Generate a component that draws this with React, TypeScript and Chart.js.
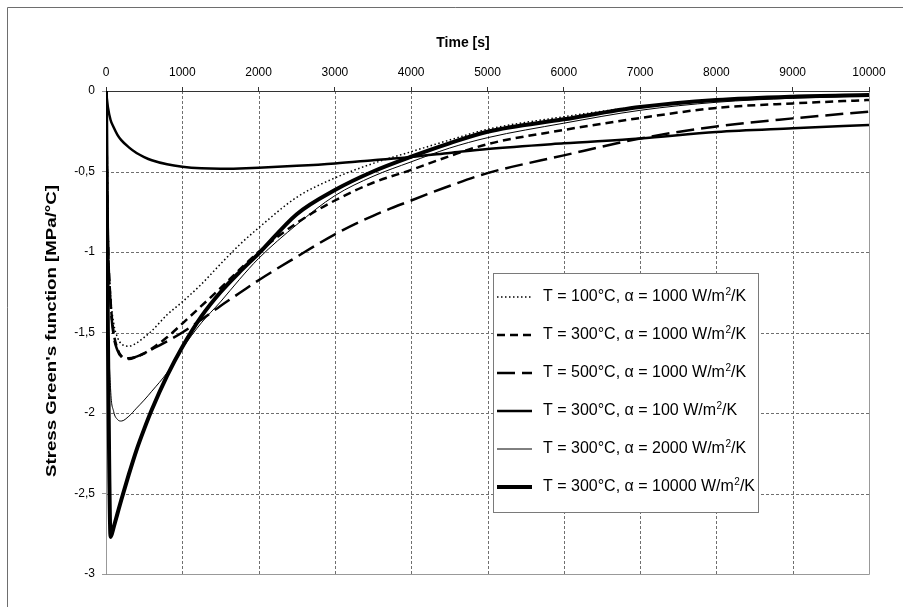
import { useEffect, useRef } from 'react';
import { Chart, registerables } from 'chart.js';

Chart.register(...registerables);

// ---- data ----
const timeS = [0, 25, 60, 100, 150, 200, 300, 400, 500, 600, 800, 1000, 1250, 1500, 1750, 2000, 2500, 3000, 3500, 4000, 4500, 5000, 6000, 7000, 8000, 9000, 10000];

const t100a1000 = [0, -0.9, -1.27, -1.44, -1.53, -1.57, -1.585, -1.565, -1.53, -1.49, -1.39, -1.31, -1.2, -1.075, -0.955, -0.85, -0.66, -0.54, -0.45, -0.377, -0.305, -0.238, -0.16, -0.097, -0.058, -0.038, -0.025];
const t300a1000 = [0, -0.9, -1.3, -1.5, -1.6, -1.645, -1.66, -1.65, -1.63, -1.6, -1.53, -1.445, -1.335, -1.225, -1.11, -1.0, -0.82, -0.68, -0.57, -0.49, -0.405, -0.33, -0.242, -0.168, -0.105, -0.077, -0.056];
const t500a1000 = [0, -0.9, -1.32, -1.52, -1.61, -1.65, -1.665, -1.65, -1.63, -1.605, -1.555, -1.5, -1.42, -1.335, -1.255, -1.175, -1.03, -0.89, -0.775, -0.68, -0.59, -0.51, -0.4, -0.295, -0.22, -0.17, -0.128];
const t300a100 = [0, -0.1, -0.18, -0.225, -0.272, -0.305, -0.35, -0.385, -0.41, -0.43, -0.455, -0.47, -0.48, -0.483, -0.481, -0.477, -0.465, -0.45, -0.43, -0.41, -0.385, -0.36, -0.325, -0.295, -0.255, -0.232, -0.211];
const t300a2000 = [0, -1.3, -1.85, -1.99, -2.04, -2.05, -2.02, -1.97, -1.92, -1.865, -1.75, -1.6, -1.44, -1.31, -1.17, -1.04, -0.83, -0.65, -0.53, -0.44, -0.355, -0.29, -0.2, -0.12, -0.07, -0.045, -0.031];
const t300a10000 = [0, -1.5, -2.77, -2.71, -2.625, -2.54, -2.38, -2.23, -2.1, -1.98, -1.77, -1.59, -1.4, -1.25, -1.125, -1.01, -0.765, -0.615, -0.5, -0.408, -0.325, -0.253, -0.176, -0.1, -0.056, -0.035, -0.025];

const seriesLabels = [
  'T = 100°C, α = 1000 W/m²/K',
  'T = 300°C, α = 1000 W/m²/K',
  'T = 500°C, α = 1000 W/m²/K',
  'T = 300°C, α = 100 W/m²/K',
  'T = 300°C, α = 2000 W/m²/K',
  'T = 300°C, α = 10000 W/m²/K',
];
const seriesValues = [t100a1000, t300a1000, t500a1000, t300a100, t300a2000, t300a10000];

const xTickValues = [0, 1000, 2000, 3000, 4000, 5000, 6000, 7000, 8000, 9000, 10000];
const yTickValues = [0, -0.5, -1, -1.5, -2, -2.5, -3];

const xTitle = 'Time [s]';
const yTitle = "Stress Green's function [MPa/°C]";

// ---- styles ----
const seriesStyles = [
  { width: 1.5, dash: [1.5, 2.5] },
  { width: 2.5, dash: [8, 5] },
  { width: 2.5, dash: [18, 7] },
  { width: 2.5, dash: [] as number[] },
  { width: 1, dash: [] as number[] },
  { width: 4, dash: [] as number[] },
];

const FONT = '"Liberation Sans", Arial, sans-serif';
const GRID_COLOR = '#6f6f6f';
const GRID_DASH = [3, 2];

const decorPlugin = {
  id: 'decor',
  beforeDraw(chart: any) {
    const ctx = chart.ctx;
    ctx.save();
    ctx.fillStyle = '#ffffff';
    ctx.fillRect(0, 0, chart.width, chart.height);
    ctx.strokeStyle = '#6e6e6e';
    ctx.lineWidth = 1;
    ctx.beginPath();
    ctx.moveTo(7.5, chart.height);
    ctx.lineTo(7.5, 7.5);
    ctx.lineTo(chart.width, 7.5);
    ctx.stroke();

    ctx.fillStyle = '#000';
    ctx.font = 'bold 14px ' + FONT;
    ctx.textAlign = 'center';
    ctx.textBaseline = 'middle';
    ctx.fillText(xTitle, 463, 43);
    ctx.translate(52, 331);
    ctx.rotate(-Math.PI / 2);
    const w = ctx.measureText(yTitle).width;
    ctx.scale(292 / w, 1);
    ctx.fillText(yTitle, 0, 0);
    ctx.restore();
  },
  beforeDatasetsDraw(chart: any) {
    const { left, right, top, bottom } = chart.chartArea;
    const ctx = chart.ctx;
    const xs = chart.scales.x;
    const ys = chart.scales.y;
    ctx.save();
    ctx.lineWidth = 1;
    ctx.strokeStyle = GRID_COLOR;
    ctx.setLineDash(GRID_DASH);
    xTickValues.forEach((v) => {
      const px = Math.round(xs.getPixelForValue(v)) + 0.5;
      ctx.beginPath();
      ctx.moveTo(px, top);
      ctx.lineTo(px, bottom);
      ctx.stroke();
    });
    yTickValues.forEach((v) => {
      const py = Math.round(ys.getPixelForValue(v)) + 0.5;
      ctx.beginPath();
      ctx.moveTo(left, py);
      ctx.lineTo(right, py);
      ctx.stroke();
    });
    ctx.setLineDash([]);
    ctx.strokeStyle = '#999999';
    ctx.beginPath();
    ctx.moveTo(Math.round(left) + 0.5, Math.round(top));
    ctx.lineTo(Math.round(left) + 0.5, Math.round(bottom) + 0.5);
    ctx.lineTo(Math.round(right) + 0.5, Math.round(bottom) + 0.5);
    ctx.lineTo(Math.round(right) + 0.5, Math.round(top));
    ctx.stroke();
    ctx.strokeStyle = '#333333';
    ctx.beginPath();
    ctx.moveTo(Math.round(left), Math.round(top) + 0.5);
    ctx.lineTo(Math.round(right) + 1, Math.round(top) + 0.5);
    ctx.stroke();
    ctx.restore();
  },
  afterDatasetsDraw(chart: any) {
    const ctx = chart.ctx;
    const bx = 493, by = 273, bw = 265, bh = 239;
    ctx.save();
    ctx.fillStyle = '#ffffff';
    ctx.fillRect(bx, by, bw, bh);
    ctx.strokeStyle = '#7a7a7a';
    ctx.lineWidth = 1;
    ctx.strokeRect(bx + 0.5, by + 0.5, bw, bh);
    chart.data.datasets.forEach((ds: any, i: number) => {
      const y = 297 + i * 38;
      ctx.save();
      ctx.strokeStyle = '#000';
      ctx.lineWidth = ds.borderWidth;
      ctx.setLineDash(ds.borderDash || []);
      ctx.beginPath();
      ctx.moveTo(497, y);
      ctx.lineTo(532, y);
      ctx.stroke();
      ctx.restore();
      const parts = String(ds.label).split('²');
      ctx.fillStyle = '#000';
      ctx.textAlign = 'left';
      ctx.textBaseline = 'middle';
      ctx.font = '16px ' + FONT;
      let x = 543;
      ctx.fillText(parts[0], x, y);
      x += ctx.measureText(parts[0]).width;
      if (parts.length > 1) {
        ctx.font = '10px ' + FONT;
        ctx.fillText('2', x + 0.5, y - 5);
        x += ctx.measureText('2').width + 0.5;
        ctx.font = '16px ' + FONT;
        ctx.fillText(parts[1], x, y);
      }
    });
    ctx.restore();
  },
};

export default function App() {
  const ref = useRef<HTMLCanvasElement | null>(null);
  useEffect(() => {
    if (!ref.current) return;
    const datasets = seriesValues.map((vals, i) => ({
      label: seriesLabels[i],
      data: timeS.map((t, k) => ({ x: t, y: vals[k] })),
      borderColor: '#000000',
      backgroundColor: '#000000',
      borderWidth: seriesStyles[i].width,
      borderDash: seriesStyles[i].dash,
      pointRadius: 0,
      fill: false,
      cubicInterpolationMode: 'monotone' as const,
      borderCapStyle: 'butt' as const,
      borderJoinStyle: 'round' as const,
    }));
    const chart = new Chart(ref.current, {
      type: 'line',
      data: { datasets },
      plugins: [decorPlugin],
      options: {
        animation: false,
        responsive: false,
        devicePixelRatio: 1,
        layout: { padding: { left: 0, top: 0, right: 34, bottom: 33 } },
        plugins: {
          legend: { display: false },
          tooltip: { enabled: false },
          title: { display: false },
        },
        scales: {
          x: {
            type: 'linear',
            position: 'top',
            min: 0,
            max: 10000,
            afterBuildTicks: (s: any) => {
              s.ticks = xTickValues.map((v) => ({ value: v }));
            },
            afterFit: (s: any) => {
              s.height = 91;
            },
            ticks: {
              color: '#000',
              font: { family: FONT, size: 12 },
              padding: 7,
              maxRotation: 0,
              autoSkip: false,
              callback: (v: any) => String(v),
            },
            grid: {
              drawOnChartArea: false,
              lineWidth: 1,
              tickLength: 4,
              tickColor: '#333333',
            },
            border: { display: false },
          },
          y: {
            type: 'linear',
            min: -3,
            max: 0,
            afterBuildTicks: (s: any) => {
              s.ticks = yTickValues.map((v) => ({ value: v }));
            },
            afterFit: (s: any) => {
              s.width = 106;
            },
            ticks: {
              color: '#000',
              font: { family: FONT, size: 12 },
              padding: 7,
              callback: (v: any) => String(v).replace('.', ','),
            },
            grid: {
              drawOnChartArea: false,
              lineWidth: 1,
              tickLength: 4,
              tickColor: '#999999',
            },
            border: { display: false },
          },
        },
      } as any,
    });
    return () => chart.destroy();
  }, []);
  return (
    <div style={{ position: 'absolute', left: 0, top: 0, width: 903, height: 607 }}>
      <canvas ref={ref} width={903} height={607} style={{ display: 'block' }} />
    </div>
  );
}
